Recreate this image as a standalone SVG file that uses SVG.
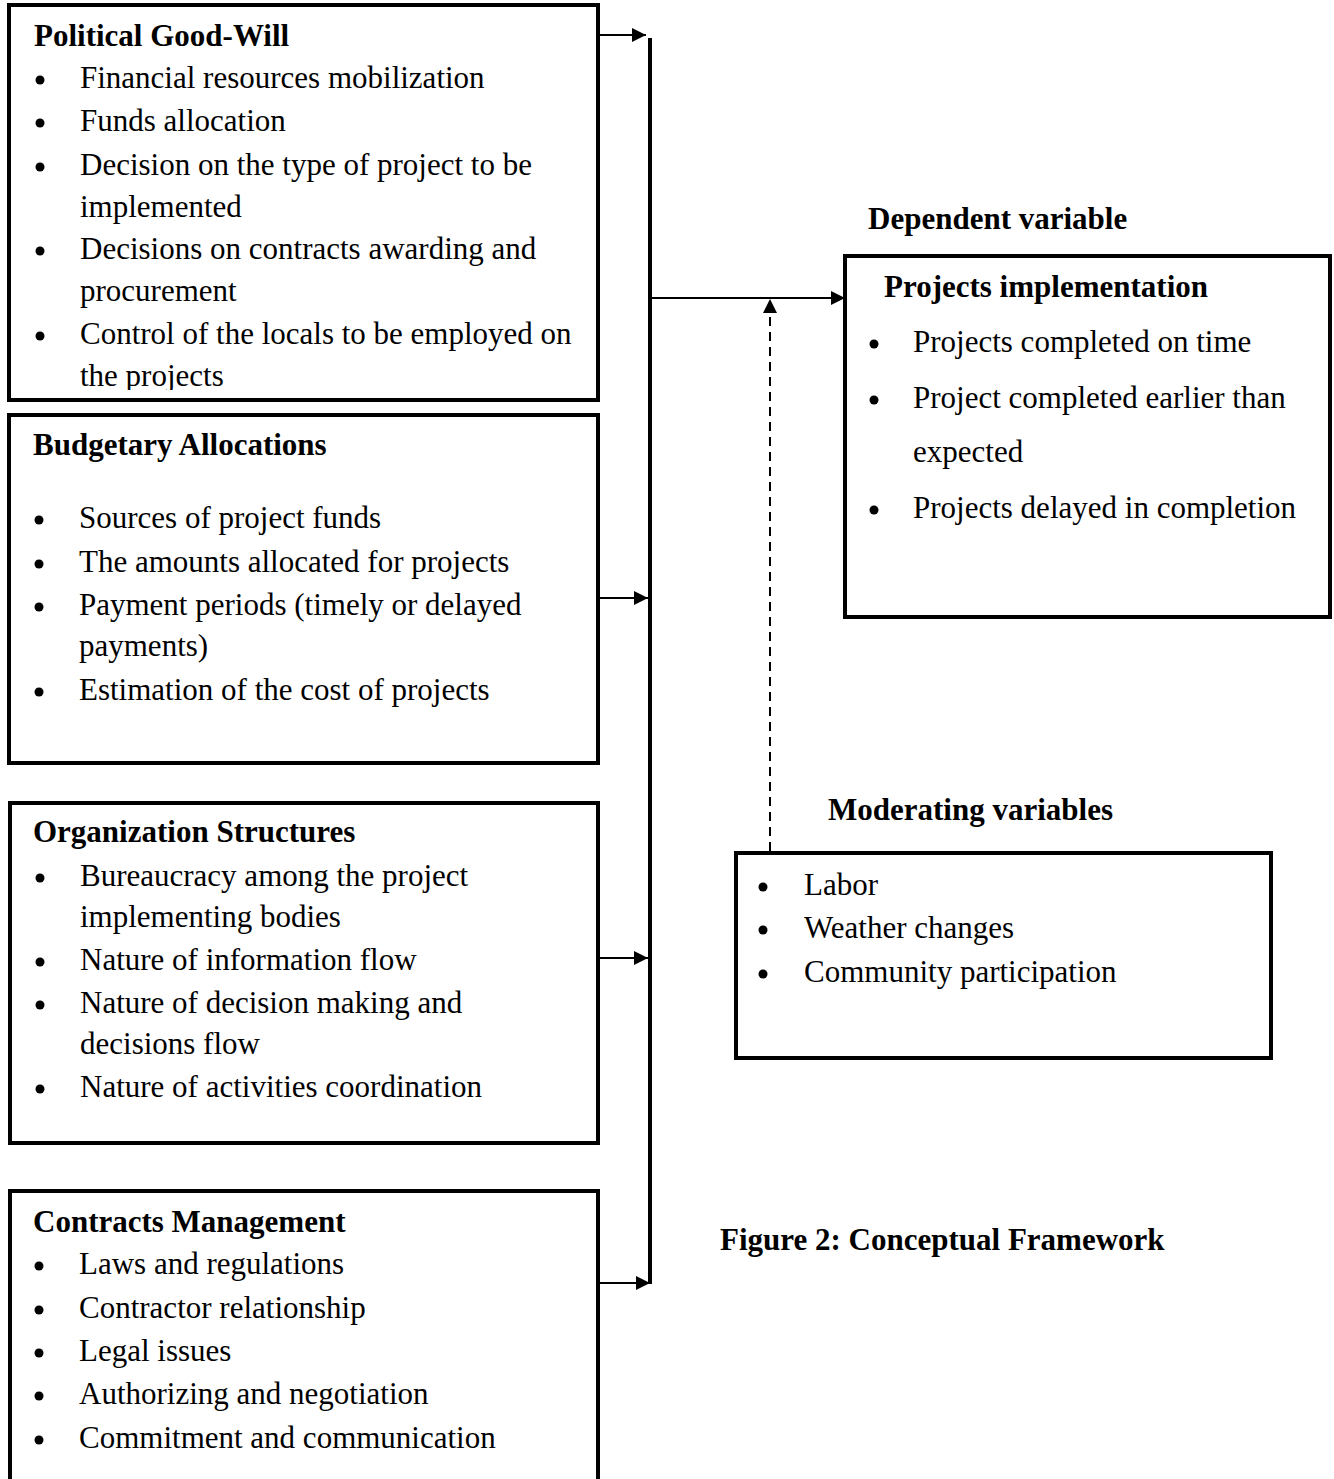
<svg xmlns="http://www.w3.org/2000/svg" width="1334" height="1479" viewBox="0 0 1334 1479">
<style>
.box{fill:#fff;stroke:#000;stroke-width:4}
.t{font-family:"Liberation Serif","Times New Roman",serif;font-size:31px;fill:#000}
.b{font-family:"Liberation Serif","Times New Roman",serif;font-size:31px;font-weight:bold;fill:#000}
.con{stroke:#000;stroke-width:2;fill:none}
.dot{fill:#000}
</style>
<defs>
<marker id="ah" viewBox="0 0 10 10" refX="10" refY="5" markerWidth="16" markerHeight="14" markerUnits="userSpaceOnUse" orient="auto">
<path d="M0,0 L10,5 L0,10 Z" fill="#000"/>
</marker>
<clipPath id="c1"><rect x="9" y="5" width="589" height="385"/></clipPath>
</defs>
<rect width="1334" height="1479" fill="#fff"/>

<g id="political">
<rect class="box" x="9" y="5" width="589" height="395"/>
<g clip-path="url(#c1)">
<text class="b" x="34" y="46">Political Good-Will</text>
<g class="dot">
<circle cx="40" cy="80" r="4.5"/><circle cx="40" cy="123" r="4.5"/><circle cx="40" cy="167" r="4.5"/><circle cx="40" cy="251" r="4.5"/><circle cx="40" cy="336" r="4.5"/>
</g>
<g class="t">
<text x="80" y="88">Financial resources mobilization</text>
<text x="80" y="131">Funds allocation</text>
<text x="80" y="175">Decision on the type of project to be</text>
<text x="80" y="217">implemented</text>
<text x="80" y="259">Decisions on contracts awarding and</text>
<text x="80" y="301">procurement</text>
<text x="80" y="344">Control of the locals to be employed on</text>
<text x="80" y="386">the projects</text>
</g>
</g>
</g>

<g id="budgetary">
<rect class="box" x="9" y="415" width="589" height="348"/>
<text class="b" x="33" y="455">Budgetary Allocations</text>
<g class="dot">
<circle cx="39" cy="520" r="4.5"/><circle cx="39" cy="564" r="4.5"/><circle cx="39" cy="607" r="4.5"/><circle cx="39" cy="692" r="4.5"/>
</g>
<g class="t">
<text x="79" y="528">Sources of project funds</text>
<text x="79" y="572">The  amounts allocated for projects</text>
<text x="79" y="615">Payment periods (timely or delayed</text>
<text x="79" y="656">payments)</text>
<text x="79" y="700">Estimation of the cost of projects</text>
</g>
</g>

<g id="organization">
<rect class="box" x="10" y="803" width="588" height="340"/>
<text class="b" x="33" y="842">Organization Structures</text>
<g class="dot">
<circle cx="40" cy="878" r="4.5"/><circle cx="40" cy="962" r="4.5"/><circle cx="40" cy="1005" r="4.5"/><circle cx="40" cy="1089" r="4.5"/>
</g>
<g class="t">
<text x="80" y="886">Bureaucracy among the project</text>
<text x="80" y="927">implementing bodies</text>
<text x="80" y="970">Nature of information flow</text>
<text x="80" y="1013">Nature of decision making and</text>
<text x="80" y="1054">decisions flow</text>
<text x="80" y="1097">Nature of activities coordination</text>
</g>
</g>

<g id="contracts">
<path d="M10,1485 V1191 H598 V1485" fill="#fff" stroke="#000" stroke-width="4"/>
<text class="b" x="33" y="1232">Contracts Management</text>
<g class="dot">
<circle cx="39" cy="1266" r="4.5"/><circle cx="39" cy="1310" r="4.5"/><circle cx="39" cy="1353" r="4.5"/><circle cx="39" cy="1396" r="4.5"/><circle cx="39" cy="1440" r="4.5"/>
</g>
<g class="t">
<text x="79" y="1274">Laws and regulations</text>
<text x="79" y="1318">Contractor relationship</text>
<text x="79" y="1361">Legal issues</text>
<text x="79" y="1404">Authorizing and negotiation</text>
<text x="79" y="1448">Commitment and communication</text>
</g>
</g>

<g id="dependent">
<text class="b" x="868" y="229">Dependent variable</text>
<rect class="box" x="845" y="256" width="485" height="361"/>
<text class="b" x="884" y="297">Projects implementation</text>
<g class="dot">
<circle cx="874" cy="344" r="4.5"/><circle cx="874" cy="400" r="4.5"/><circle cx="874" cy="510" r="4.5"/>
</g>
<g class="t">
<text x="913" y="352">Projects completed on time</text>
<text x="913" y="408">Project completed earlier than</text>
<text x="913" y="462">expected</text>
<text x="913" y="518">Projects delayed in completion</text>
</g>
</g>

<g id="moderating">
<text class="b" x="828" y="820">Moderating variables</text>
<rect class="box" x="736" y="853" width="535" height="205"/>
<g class="dot">
<circle cx="763" cy="887" r="4.5"/><circle cx="763" cy="930" r="4.5"/><circle cx="763" cy="974" r="4.5"/>
</g>
<g class="t">
<text x="804" y="895">Labor</text>
<text x="804" y="938">Weather changes</text>
<text x="804" y="982">Community participation</text>
</g>
</g>

<g id="caption">
<text class="b" x="720" y="1250">Figure 2: Conceptual Framework</text>
</g>

<g id="connectors">
<line x1="650" y1="38" x2="650" y2="1284" stroke="#000" stroke-width="4"/>
<line class="con" x1="600" y1="35" x2="646" y2="35" marker-end="url(#ah)"/>
<line class="con" x1="600" y1="598" x2="648" y2="598" marker-end="url(#ah)"/>
<line class="con" x1="600" y1="958" x2="648" y2="958" marker-end="url(#ah)"/>
<line class="con" x1="600" y1="1283" x2="650" y2="1283" marker-end="url(#ah)"/>
<line class="con" x1="652" y1="298" x2="845" y2="298" marker-end="url(#ah)"/>
<line class="con" x1="770" y1="851" x2="770" y2="299" stroke-dasharray="9,6" marker-end="url(#ah)"/>
</g>
</svg>
